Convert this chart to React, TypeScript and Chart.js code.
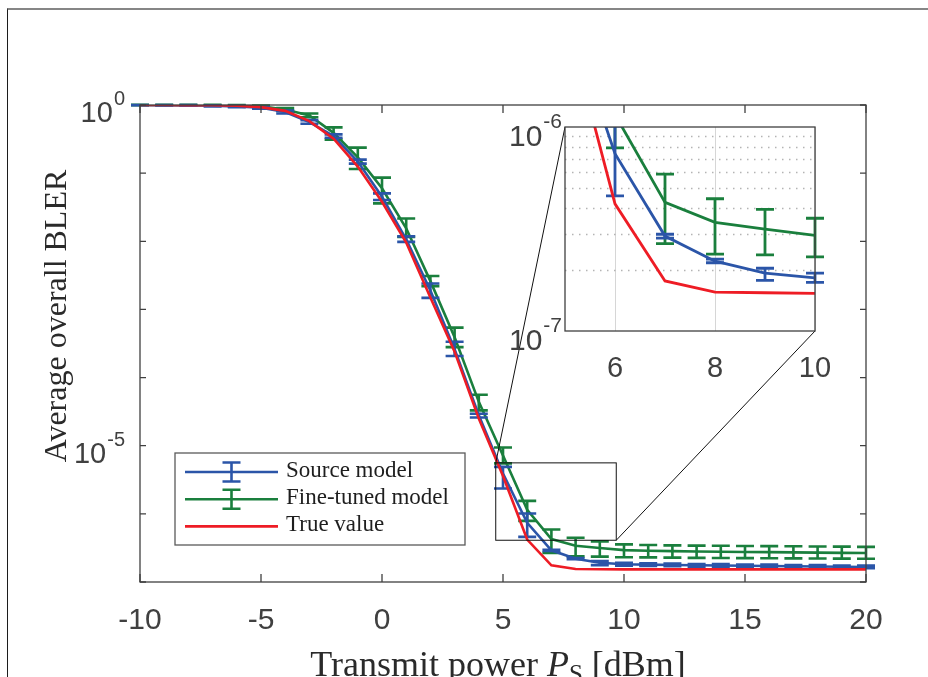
import React, { useEffect, useRef } from "react";
import { Chart, registerables } from "chart.js";

Chart.register(...registerables);

// ---------------- data ----------------
const X_VALUES = [-10, -9, -8, -7, -6, -5, -4, -3, -2, -1, 0, 1, 2, 3, 4, 5, 6, 7, 8, 9, 10, 11, 12, 13, 14, 15, 16, 17, 18, 19, 20];

const TRUE_VALUE = [1.0, 0.999, 0.997, 0.99, 0.975, 0.93, 0.82, 0.58, 0.32, 0.125, 0.038, 0.0096, 0.0015, 2.4e-4, 2.5e-5, 3.6e-6, 4.2e-7, 1.76e-7, 1.55e-7, 1.54e-7, 1.53e-7, 1.53e-7, 1.53e-7, 1.53e-7, 1.53e-7, 1.53e-7, 1.53e-7, 1.53e-7, 1.53e-7, 1.53e-7, 1.53e-7];

const SOURCE_MODEL = [1.0, 0.996, 0.99, 0.975, 0.955, 0.91, 0.79, 0.56, 0.35, 0.148, 0.045, 0.0107, 0.0019, 2.6e-4, 2.8e-5, 3.9e-6, 7.4e-7, 2.92e-7, 2.2e-7, 1.92e-7, 1.82e-7, 1.8e-7, 1.78e-7, 1.76e-7, 1.75e-7, 1.73e-7, 1.72e-7, 1.7e-7, 1.69e-7, 1.67e-7, 1.66e-7];
const SOURCE_LOW = [0.995, 0.985, 0.975, 0.955, 0.93, 0.88, 0.75, 0.53, 0.33, 0.138, 0.0404, 0.0098, 0.00148, 2.07e-4, 2.6e-5, 2.35e-6, 4.6e-7, 2.85e-7, 2.16e-7, 1.77e-7, 1.73e-7, 1.72e-7, 1.7e-7, 1.68e-7, 1.67e-7, 1.65e-7, 1.64e-7, 1.62e-7, 1.61e-7, 1.6e-7, 1.59e-7];
const SOURCE_HIGH = [1.0, 1.0, 1.0, 0.99, 0.975, 0.935, 0.83, 0.6, 0.37, 0.158, 0.0504, 0.0118, 0.0024, 3.35e-4, 2.95e-5, 4.9e-6, 1.01e-6, 2.98e-7, 2.25e-7, 2.03e-7, 1.92e-7, 1.88e-7, 1.86e-7, 1.84e-7, 1.83e-7, 1.81e-7, 1.8e-7, 1.78e-7, 1.77e-7, 1.75e-7, 1.74e-7];

const FINE_TUNED = [1.0, 0.999, 0.997, 0.99, 0.98, 0.955, 0.86, 0.7, 0.39, 0.17, 0.06, 0.0155, 0.0026, 3.9e-4, 4.4e-5, 7.2e-6, 1.15e-6, 4.27e-7, 3.41e-7, 3.16e-7, 2.94e-7, 2.88e-7, 2.84e-7, 2.8e-7, 2.78e-7, 2.76e-7, 2.74e-7, 2.72e-7, 2.7e-7, 2.68e-7, 2.66e-7];
const FINE_LOW = [0.99, 0.99, 0.985, 0.975, 0.96, 0.93, 0.82, 0.66, 0.31, 0.115, 0.036, 0.0116, 0.0022, 2.8e-4, 3.3e-5, 5.5e-6, 7.9e-7, 2.68e-7, 2.38e-7, 2.36e-7, 2.31e-7, 2.3e-7, 2.28e-7, 2.26e-7, 2.25e-7, 2.24e-7, 2.23e-7, 2.22e-7, 2.21e-7, 2.2e-7, 2.19e-7];
const FINE_HIGH = [1.01, 1.008, 1.008, 1.005, 1.0, 0.98, 0.9, 0.75, 0.47, 0.237, 0.086, 0.0216, 0.0031, 5.4e-4, 5.6e-5, 9.4e-6, 1.55e-6, 5.88e-7, 4.45e-7, 3.95e-7, 3.57e-7, 3.5e-7, 3.45e-7, 3.42e-7, 3.4e-7, 3.38e-7, 3.36e-7, 3.34e-7, 3.32e-7, 3.3e-7, 3.28e-7];

const SERIES_LABELS = ["Source model", "Fine-tuned model", "True value"];

const X_TICKS = [-10, -5, 0, 5, 10, 15, 20];
const Y_TICK_EXPONENTS = [0, -1, -2, -3, -4, -5, -6, -7];
const Y_LABEL_EXPONENTS = [0, -5];

const INSET_X_TICKS = [6, 8, 10];
const INSET_Y_LABEL_EXPONENTS = [-6, -7];
const INSET_MINOR_GRID = [2e-7, 3e-7, 4e-7, 5e-7, 6e-7, 7e-7, 8e-7, 9e-7];

const ZOOM_BOX = { xMin: 4.7, xMax: 9.68, yMin: 4.1e-7, yMax: 5.6e-6 };

const X_TITLE_PARTS = ["Transmit power ", "P", "S", " [dBm]"];
const Y_TITLE = "Average overall BLER";

// ---------------- styles ----------------
const BLUE = "#2b55a8";
const GREEN = "#1a7f3d";
const RED = "#ee1c25";
const AXIS = "#404040";
const SANS = '"Liberation Sans", Arial, Helvetica, sans-serif';
const SERIF = '"Liberation Serif", "Times New Roman", serif';

const W = 928;
const H = 677;
const INSET_POS = { left: 470, top: 100, width: 380, height: 300 };

function makeDatasets(lw: number) {
  return [
    {
      label: SERIES_LABELS[2],
      data: X_VALUES.map((x, i) => ({ x, y: TRUE_VALUE[i] })),
      borderColor: RED,
      borderWidth: lw,
      pointRadius: 0,
      tension: 0,
      fill: false,
      order: 0,
    },
    {
      label: SERIES_LABELS[0],
      data: X_VALUES.map((x, i) => ({ x, y: SOURCE_MODEL[i] })),
      borderColor: BLUE,
      borderWidth: lw,
      pointRadius: 0,
      tension: 0,
      fill: false,
      order: 1,
      errLow: SOURCE_LOW,
      errHigh: SOURCE_HIGH,
    },
    {
      label: SERIES_LABELS[1],
      data: X_VALUES.map((x, i) => ({ x, y: FINE_TUNED[i] })),
      borderColor: GREEN,
      borderWidth: lw,
      pointRadius: 0,
      tension: 0,
      fill: false,
      order: 2,
      errLow: FINE_LOW,
      errHigh: FINE_HIGH,
    },
  ];
}

function drawErrorBars(chart: any, ds: any, capHalf: number, lw: number, clip: boolean) {
  if (!ds.errLow) return;
  const { ctx, scales, chartArea } = chart;
  const xs = scales.x;
  const ys = scales.y;
  ctx.save();
  if (clip) {
    ctx.beginPath();
    ctx.rect(chartArea.left - capHalf - 4, chartArea.top, chartArea.right - chartArea.left + 2 * capHalf + 8, chartArea.bottom - chartArea.top);
    ctx.clip();
  }
  ctx.strokeStyle = ds.borderColor;
  ctx.lineWidth = lw;
  ctx.lineCap = "butt";
  X_VALUES.forEach((xv, i) => {
    const px = xs.getPixelForValue(xv);
    if (clip && (px < chartArea.left - 1 || px > chartArea.right + 1)) return;
    const pLo = ys.getPixelForValue(ds.errLow[i]);
    const pHi = ys.getPixelForValue(ds.errHigh[i]);
    ctx.beginPath();
    ctx.moveTo(px, pLo);
    ctx.lineTo(px, pHi);
    ctx.moveTo(px - capHalf, pLo);
    ctx.lineTo(px + capHalf, pLo);
    ctx.moveTo(px - capHalf, pHi);
    ctx.lineTo(px + capHalf, pHi);
    ctx.stroke();
  });
  ctx.restore();
}

function drawPower(ctx: CanvasRenderingContext2D, exp: number, right: number, tickY: number, baseSize: number, supSize: number, baseDy: number, supDy: number) {
  const sup = String(exp);
  ctx.save();
  ctx.fillStyle = AXIS;
  ctx.textAlign = "left";
  ctx.textBaseline = "alphabetic";
  ctx.font = `${supSize}px ${SANS}`;
  const wSup = ctx.measureText(sup).width;
  ctx.font = `${baseSize}px ${SANS}`;
  const wBase = ctx.measureText("10").width;
  const x0 = right - wSup - wBase - 1;
  ctx.fillText("10", x0, tickY + baseDy);
  ctx.font = `${supSize}px ${SANS}`;
  ctx.fillText(sup, x0 + wBase + 1, tickY + supDy);
  ctx.restore();
}

function drawLegendIcon(ctx: CanvasRenderingContext2D, x0: number, x1: number, y: number, color: string, withErr: boolean) {
  ctx.save();
  ctx.strokeStyle = color;
  ctx.lineWidth = 2.6;
  ctx.beginPath();
  ctx.moveTo(x0, y);
  ctx.lineTo(x1, y);
  ctx.stroke();
  if (withErr) {
    const cx = (x0 + x1) / 2;
    ctx.beginPath();
    ctx.moveTo(cx, y - 9.5);
    ctx.lineTo(cx, y + 9.5);
    ctx.moveTo(cx - 9, y - 9.5);
    ctx.lineTo(cx + 9, y - 9.5);
    ctx.moveTo(cx - 9, y + 9.5);
    ctx.lineTo(cx + 9, y + 9.5);
    ctx.stroke();
  }
  ctx.restore();
}

export default function App() {
  const mainRef = useRef<HTMLCanvasElement>(null);
  const insetRef = useRef<HTMLCanvasElement>(null);

  useEffect(() => {
    if (!mainRef.current || !insetRef.current) return;

    // ---------- inset ----------
    const insetPlugin = {
      id: "insetDecor",
      beforeDraw(chart: any) {
        const { ctx, chartArea: a } = chart;
        ctx.save();
        ctx.fillStyle = "#ffffff";
        ctx.fillRect(a.left, a.top, a.right - a.left, a.bottom - a.top);
        ctx.restore();
      },
      beforeDatasetsDraw(chart: any) {
        const { ctx, chartArea: a, scales } = chart;
        ctx.save();
        ctx.strokeStyle = "#d6d6d6";
        ctx.lineWidth = 1;
        INSET_X_TICKS.forEach((v) => {
          const px = Math.round(scales.x.getPixelForValue(v)) + 0.5;
          ctx.beginPath();
          ctx.moveTo(px, a.top);
          ctx.lineTo(px, a.bottom);
          ctx.stroke();
        });
        ctx.strokeStyle = "#b4b4b4";
        ctx.lineWidth = 1.5;
        ctx.setLineDash([1.5, 5.5]);
        INSET_MINOR_GRID.forEach((v) => {
          const py = Math.round(scales.y.getPixelForValue(v)) + 0.5;
          ctx.beginPath();
          ctx.moveTo(a.left, py);
          ctx.lineTo(a.right, py);
          ctx.stroke();
        });
        ctx.restore();
      },
      afterDatasetDraw(chart: any, args: any) {
        drawErrorBars(chart, chart.data.datasets[args.index], 9, 2.8, true);
      },
      afterDraw(chart: any) {
        const { ctx, chartArea: a, scales } = chart;
        ctx.save();
        ctx.strokeStyle = AXIS;
        ctx.lineWidth = 1.3;
        ctx.strokeRect(a.left, a.top, a.right - a.left, a.bottom - a.top);
        ctx.fillStyle = AXIS;
        ctx.font = `29px ${SANS}`;
        ctx.textAlign = "center";
        ctx.textBaseline = "alphabetic";
        INSET_X_TICKS.forEach((v) => {
          ctx.fillText(String(v), scales.x.getPixelForValue(v), a.bottom + 46);
        });
        ctx.restore();
        INSET_Y_LABEL_EXPONENTS.forEach((e) => {
          drawPower(ctx, e, a.left - 3, scales.y.getPixelForValue(Math.pow(10, e)), 30, 21, 19, 1);
        });
      },
    };

    const inset = new Chart(insetRef.current, {
      type: "line",
      data: { datasets: makeDatasets(2.8) as any },
      options: {
        responsive: false,
        animation: false,
        layout: { padding: { left: 95, top: 27, right: 35, bottom: 69 } },
        scales: {
          x: { type: "linear", min: 5, max: 10, display: false },
          y: { type: "logarithmic", min: 1e-7, max: 1e-6, display: false },
        },
        plugins: { legend: { display: false }, tooltip: { enabled: false } },
      } as any,
      plugins: [insetPlugin],
    });

    // ---------- main ----------
    const mainPlugin = {
      id: "mainDecor",
      afterDatasetDraw(chart: any, args: any) {
        drawErrorBars(chart, chart.data.datasets[args.index], 9, 2.6, false);
      },
      afterDraw(chart: any) {
        const { ctx, chartArea: a, scales } = chart;
        const xs = scales.x;
        const ys = scales.y;
        ctx.save();
        // box
        ctx.strokeStyle = AXIS;
        ctx.lineWidth = 1.3;
        ctx.strokeRect(a.left, a.top, a.right - a.left, a.bottom - a.top);
        // ticks
        ctx.beginPath();
        X_TICKS.forEach((v) => {
          const px = xs.getPixelForValue(v);
          ctx.moveTo(px, a.bottom);
          ctx.lineTo(px, a.bottom - 8);
          ctx.moveTo(px, a.top);
          ctx.lineTo(px, a.top + 8);
        });
        Y_TICK_EXPONENTS.forEach((e) => {
          const py = ys.getPixelForValue(Math.pow(10, e));
          ctx.moveTo(a.left, py);
          ctx.lineTo(a.left + 6, py);
          ctx.moveTo(a.right, py);
          ctx.lineTo(a.right - 6, py);
        });
        ctx.stroke();
        // x tick labels
        ctx.fillStyle = AXIS;
        ctx.font = `30px ${SANS}`;
        ctx.textAlign = "center";
        ctx.textBaseline = "alphabetic";
        X_TICKS.forEach((v) => {
          ctx.fillText(String(v), xs.getPixelForValue(v), a.bottom + 47);
        });
        ctx.restore();
        // y tick labels
        Y_LABEL_EXPONENTS.forEach((e) => {
          drawPower(ctx, e, a.left - 15, ys.getPixelForValue(Math.pow(10, e)), 29, 20, 17, 0);
        });

        // zoom box
        const bx0 = xs.getPixelForValue(ZOOM_BOX.xMin);
        const bx1 = xs.getPixelForValue(ZOOM_BOX.xMax);
        const by0 = ys.getPixelForValue(ZOOM_BOX.yMax);
        const by1 = ys.getPixelForValue(ZOOM_BOX.yMin);
        ctx.save();
        ctx.strokeStyle = "#111111";
        ctx.lineWidth = 1;
        ctx.strokeRect(bx0, by0, bx1 - bx0, by1 - by0);
        const ia = inset.chartArea;
        if (ia) {
          ctx.beginPath();
          ctx.moveTo(bx0, by0);
          ctx.lineTo(INSET_POS.left + ia.left, INSET_POS.top + ia.top);
          ctx.moveTo(bx1, by1);
          ctx.lineTo(INSET_POS.left + ia.right, INSET_POS.top + ia.bottom);
          ctx.stroke();
        }
        ctx.restore();

        // legend
        const lx = a.left + 35;
        const ly = a.top + 348;
        const lw = 290;
        const lh = 92;
        ctx.save();
        ctx.fillStyle = "#ffffff";
        ctx.fillRect(lx, ly, lw, lh);
        ctx.strokeStyle = "#5a5a5a";
        ctx.lineWidth = 1.3;
        ctx.strokeRect(lx, ly, lw, lh);
        const rows = [
          { label: SERIES_LABELS[0], color: BLUE, err: true },
          { label: SERIES_LABELS[1], color: GREEN, err: true },
          { label: SERIES_LABELS[2], color: RED, err: false },
        ];
        rows.forEach((r, i) => {
          const cy = ly + 19 + i * 27.2;
          drawLegendIcon(ctx, lx + 10, lx + 103, cy, r.color, r.err);
          ctx.fillStyle = "#1e1e1e";
          ctx.font = `23px ${SERIF}`;
          ctx.textAlign = "left";
          ctx.textBaseline = "alphabetic";
          ctx.fillText(r.label, lx + 111, cy + 5);
        });
        ctx.restore();

        // y title
        ctx.save();
        ctx.fillStyle = "#2a2a2a";
        ctx.font = `32px ${SERIF}`;
        ctx.textAlign = "center";
        ctx.textBaseline = "alphabetic";
        ctx.translate(a.left - 74, a.top + 211);
        ctx.rotate(-Math.PI / 2);
        ctx.fillText(Y_TITLE, 0, 0);
        ctx.restore();

        // x title
        ctx.save();
        ctx.fillStyle = "#2a2a2a";
        ctx.textAlign = "left";
        ctx.textBaseline = "alphabetic";
        const size = 36;
        const parts = [
          { t: X_TITLE_PARTS[0], f: `${size}px ${SERIF}`, dy: 0 },
          { t: X_TITLE_PARTS[1], f: `italic ${size}px ${SERIF}`, dy: 0 },
          { t: X_TITLE_PARTS[2], f: `${Math.round(size * 0.7)}px ${SERIF}`, dy: 6 },
          { t: X_TITLE_PARTS[3], f: `${size}px ${SERIF}`, dy: 0 },
        ];
        let total = 0;
        const widths = parts.map((p) => {
          ctx.font = p.f;
          const w = ctx.measureText(p.t).width;
          total += w;
          return w;
        });
        let cx = (a.left + a.right) / 2 - 5 - total / 2;
        const base = a.bottom + 94;
        parts.forEach((p, i) => {
          ctx.font = p.f;
          ctx.fillText(p.t, cx, base + p.dy);
          cx += widths[i];
        });
        ctx.restore();
      },
    };

    const main = new Chart(mainRef.current, {
      type: "line",
      data: { datasets: makeDatasets(2.6) as any },
      options: {
        responsive: false,
        animation: false,
        layout: { padding: { left: 140, top: 105, right: 62, bottom: 95 } },
        scales: {
          x: { type: "linear", min: -10, max: 20, display: false },
          y: { type: "logarithmic", min: 1e-7, max: 1, display: false },
        },
        plugins: { legend: { display: false }, tooltip: { enabled: false } },
      } as any,
      plugins: [mainPlugin],
    });

    return () => {
      main.destroy();
      inset.destroy();
    };
  }, []);

  return (
    <div style={{ position: "fixed", left: 0, top: 0, width: W, height: H, overflow: "hidden", background: "#ffffff" }}>
      <div
        style={{
          position: "absolute",
          left: 7,
          top: 8,
          width: W,
          height: H,
          borderLeft: "1.5px solid #1c1c1c",
          borderTop: "2px solid #868686",
        }}
      />
      <canvas ref={mainRef} width={W} height={H} style={{ position: "absolute", left: 0, top: 0 }} />
      <canvas
        ref={insetRef}
        width={INSET_POS.width}
        height={INSET_POS.height}
        style={{ position: "absolute", left: INSET_POS.left, top: INSET_POS.top }}
      />
    </div>
  );
}
